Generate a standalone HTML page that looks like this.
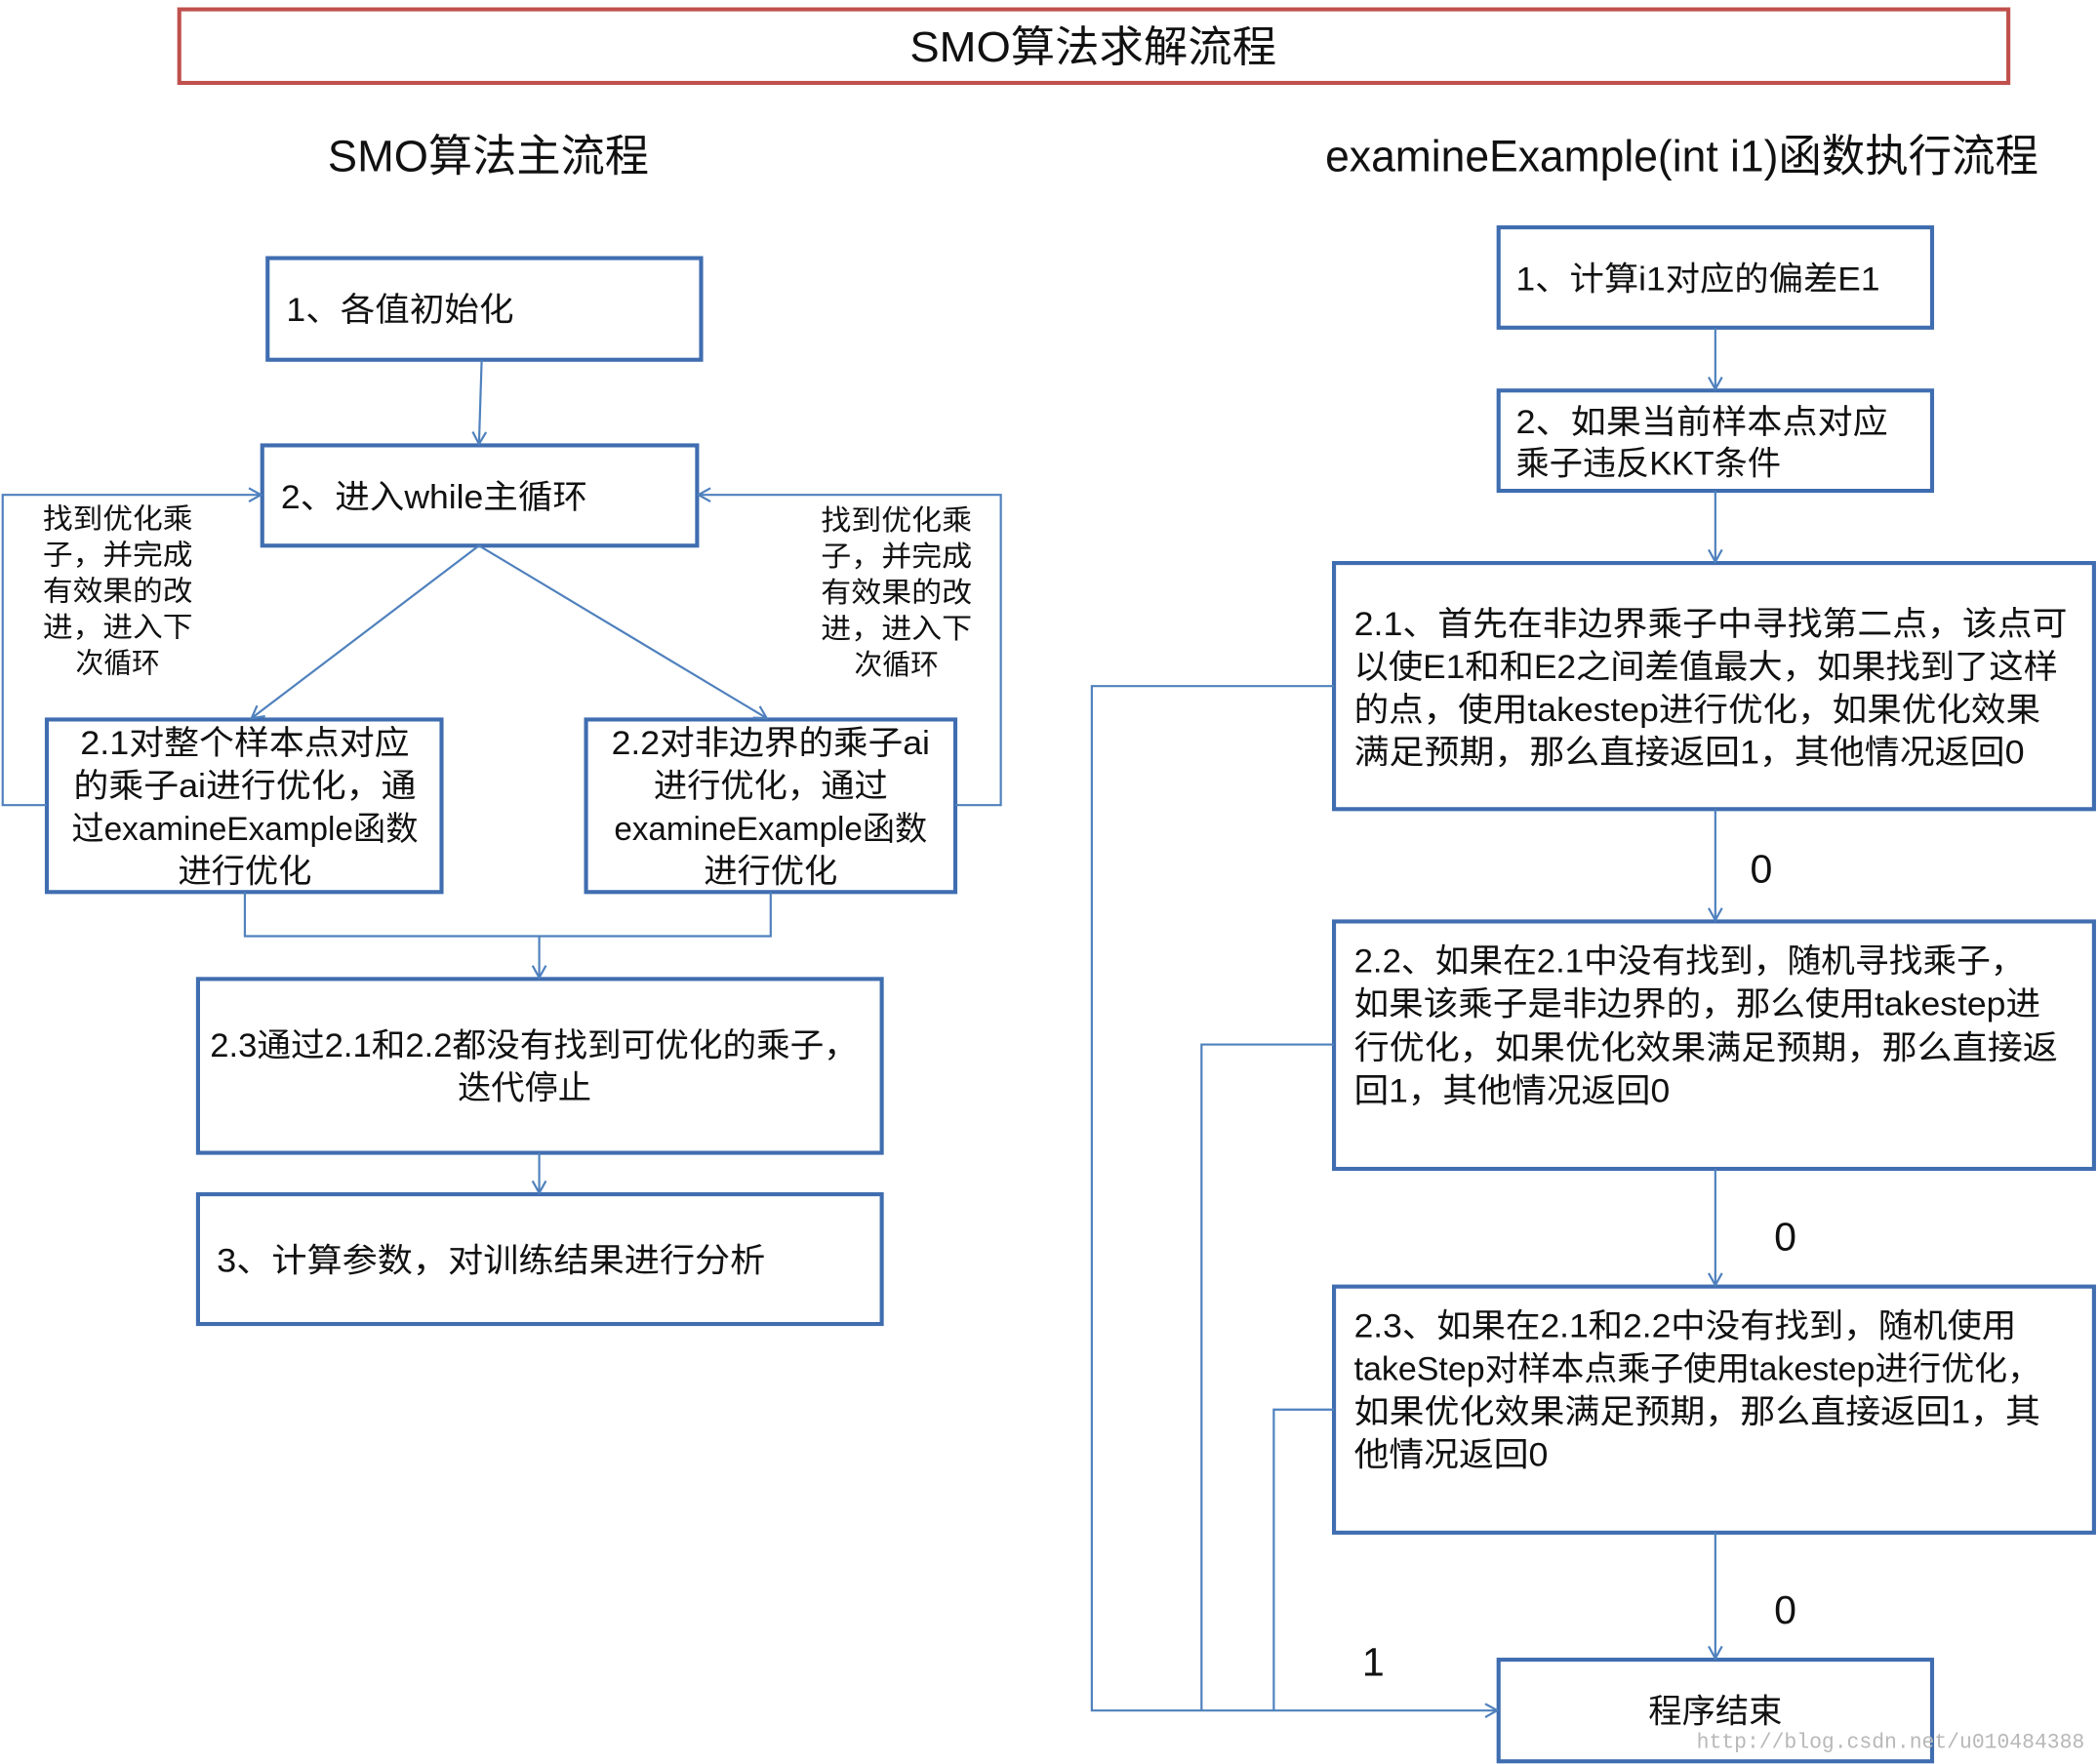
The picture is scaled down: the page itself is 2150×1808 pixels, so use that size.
<!DOCTYPE html>
<html><head><meta charset="utf-8"><style>
html,body{margin:0;padding:0;background:#fff;}
svg{display:block}
text{font-family:"Liberation Sans","Noto Sans CJK SC",sans-serif;fill:#111;}
</style></head><body>
<svg width="2150" height="1808" viewBox="0 0 1568 1319" preserveAspectRatio="none" xmlns="http://www.w3.org/2000/svg">
<defs>
<marker id="a" markerWidth="12" markerHeight="12" refX="10" refY="6" orient="auto" markerUnits="userSpaceOnUse">
<path d="M1,1 L10,6 L1,11" fill="none" stroke="#4f81bd" stroke-width="1.6"/>
</marker>
</defs>
<rect x="134" y="7" width="1367" height="55" fill="none" stroke="#c0504d" stroke-width="3"/>
<text x="817" y="46" font-size="32" text-anchor="middle" textLength="274" lengthAdjust="spacingAndGlyphs">SMO算法求解流程</text>
<text x="365" y="128" font-size="33" text-anchor="middle" textLength="240" lengthAdjust="spacingAndGlyphs">SMO算法主流程</text>
<text x="1257" y="128" font-size="33" text-anchor="middle" textLength="533" lengthAdjust="spacingAndGlyphs">examineExample(int i1)函数执行流程</text>

<g fill="none" stroke="#3f6db0" stroke-width="3">
<rect x="200" y="193" width="324" height="76"/>
<rect x="196" y="333" width="325" height="75"/>
<rect x="35" y="538" width="295" height="129"/>
<rect x="438" y="538" width="276" height="129"/>
<rect x="148" y="732" width="511" height="130"/>
<rect x="148" y="893" width="511" height="97"/>
<rect x="1120" y="170" width="324" height="75"/>
<rect x="1120" y="292" width="324" height="75"/>
<rect x="997" y="421" width="568" height="184"/>
<rect x="997" y="689" width="568" height="185"/>
<rect x="997" y="962" width="568" height="184"/>
<rect x="1120" y="1241" width="324" height="76"/>
</g>

<g fill="none" stroke="#4f81bd" stroke-width="1.6">
<line x1="360" y1="269" x2="358" y2="332" marker-end="url(#a)"/>
<line x1="358" y1="408" x2="188" y2="537" marker-end="url(#a)"/>
<line x1="358" y1="408" x2="573" y2="537" marker-end="url(#a)"/>
<polyline points="35,602 2,602 2,370 195,370" marker-end="url(#a)"/>
<polyline points="714,602 748,602 748,370 522,370" marker-end="url(#a)"/>
<polyline points="183,667 183,700 576,700 576,667"/>
<line x1="403" y1="700" x2="403" y2="731" marker-end="url(#a)"/>
<line x1="403" y1="862" x2="403" y2="892" marker-end="url(#a)"/>
<line x1="1282" y1="245" x2="1282" y2="291" marker-end="url(#a)"/>
<line x1="1282" y1="367" x2="1282" y2="420" marker-end="url(#a)"/>
<line x1="1282" y1="605" x2="1282" y2="688" marker-end="url(#a)"/>
<line x1="1282" y1="874" x2="1282" y2="961" marker-end="url(#a)"/>
<line x1="1282" y1="1146" x2="1282" y2="1240" marker-end="url(#a)"/>
<polyline points="997,513 816,513 816,1279 1119,1279" marker-end="url(#a)"/>
<polyline points="997,781 898,781 898,1279"/>
<polyline points="997,1054 952,1054 952,1279"/>
</g>

<g font-size="25" lengthAdjust="spacingAndGlyphs">
<text x="214" y="240" textLength="170" lengthAdjust="spacingAndGlyphs">1、各值初始化</text>
<text x="210" y="380" textLength="229" lengthAdjust="spacingAndGlyphs">2、进入while主循环</text>
<g text-anchor="middle">
<text x="183" y="564" textLength="246" lengthAdjust="spacingAndGlyphs">2.1对整个样本点对应</text>
<text x="183" y="596" textLength="256" lengthAdjust="spacingAndGlyphs">的乘子ai进行优化，通</text>
<text x="183" y="628" textLength="259" lengthAdjust="spacingAndGlyphs">过examineExample函数</text>
<text x="183" y="660">进行优化</text>
<text x="576" y="564" textLength="238" lengthAdjust="spacingAndGlyphs">2.2对非边界的乘子ai</text>
<text x="576" y="596">进行优化，通过</text>
<text x="576" y="628" textLength="234" lengthAdjust="spacingAndGlyphs">examineExample函数</text>
<text x="576" y="660">进行优化</text>
<text x="399" y="790" textLength="484" lengthAdjust="spacingAndGlyphs">2.3通过2.1和2.2都没有找到可优化的乘子，</text>
<text x="392" y="822">迭代停止</text>
<text x="1282" y="1288">程序结束</text>
</g>
<text x="162" y="951" textLength="410" lengthAdjust="spacingAndGlyphs">3、计算参数，对训练结果进行分析</text>
<text x="1133" y="217" textLength="272" lengthAdjust="spacingAndGlyphs">1、计算i1对应的偏差E1</text>
<text x="1133" y="324" textLength="278" lengthAdjust="spacingAndGlyphs">2、如果当前样本点对应</text>
<text x="1133" y="355" textLength="198" lengthAdjust="spacingAndGlyphs">乘子违反KKT条件</text>
<text x="1012" y="475" textLength="533" lengthAdjust="spacingAndGlyphs">2.1、首先在非边界乘子中寻找第二点，该点可</text>
<text x="1012" y="507" textLength="526" lengthAdjust="spacingAndGlyphs">以使E1和和E2之间差值最大，如果找到了这样</text>
<text x="1012" y="539" textLength="513" lengthAdjust="spacingAndGlyphs">的点，使用takestep进行优化，如果优化效果</text>
<text x="1012" y="571" textLength="501" lengthAdjust="spacingAndGlyphs">满足预期，那么直接返回1，其他情况返回0</text>
<text x="1012" y="727" textLength="501" lengthAdjust="spacingAndGlyphs">2.2、如果在2.1中没有找到，随机寻找乘子，</text>
<text x="1012" y="759" textLength="513" lengthAdjust="spacingAndGlyphs">如果该乘子是非边界的，那么使用takestep进</text>
<text x="1012" y="792" textLength="526" lengthAdjust="spacingAndGlyphs">行优化，如果优化效果满足预期，那么直接返</text>
<text x="1012" y="824" textLength="236" lengthAdjust="spacingAndGlyphs">回1，其他情况返回0</text>
<text x="1012" y="1000" textLength="495" lengthAdjust="spacingAndGlyphs">2.3、如果在2.1和2.2中没有找到，随机使用</text>
<text x="1012" y="1032" textLength="513" lengthAdjust="spacingAndGlyphs">takeStep对样本点乘子使用takestep进行优化，</text>
<text x="1012" y="1064" textLength="513" lengthAdjust="spacingAndGlyphs">如果优化效果满足预期，那么直接返回1，其</text>
<text x="1012" y="1096" textLength="145" lengthAdjust="spacingAndGlyphs">他情况返回0</text>
</g>

<g font-size="21" text-anchor="middle">
<text x="88" y="395" textLength="112" lengthAdjust="spacingAndGlyphs">找到优化乘</text>
<text x="88" y="422" textLength="112" lengthAdjust="spacingAndGlyphs">子，并完成</text>
<text x="88" y="449" textLength="112" lengthAdjust="spacingAndGlyphs">有效果的改</text>
<text x="88" y="476" textLength="112" lengthAdjust="spacingAndGlyphs">进，进入下</text>
<text x="88" y="503">次循环</text>
<text x="670" y="396" textLength="113" lengthAdjust="spacingAndGlyphs">找到优化乘</text>
<text x="670" y="423" textLength="113" lengthAdjust="spacingAndGlyphs">子，并完成</text>
<text x="670" y="450" textLength="113" lengthAdjust="spacingAndGlyphs">有效果的改</text>
<text x="670" y="477" textLength="113" lengthAdjust="spacingAndGlyphs">进，进入下</text>
<text x="670" y="504">次循环</text>
</g>
<g font-size="30">
<text x="1308" y="660">0</text>
<text x="1326" y="935">0</text>
<text x="1326" y="1214">0</text>
<text x="1018" y="1253">1</text>
</g>
<text x="1268" y="1307" font-size="16" textLength="290" lengthAdjust="spacingAndGlyphs" style="fill:#b8b8b8;font-family:'Liberation Mono',monospace">http://blog.csdn.net/u010484388</text>
</svg>
</body></html>
